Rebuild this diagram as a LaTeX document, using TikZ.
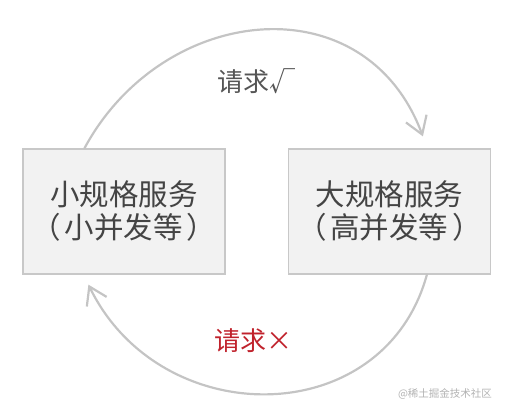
\documentclass[tikz,border=0pt]{standalone}
\usepackage{fontspec}
\setmainfont{Noto Sans CJK SC}
\usepackage{tikz}
\usetikzlibrary{arrows.meta}
\definecolor{boxfill}{HTML}{F2F2F2}
\definecolor{boxline}{HTML}{C8C8C8}
\definecolor{arcgray}{HTML}{C4C4C4}
\definecolor{txtgray}{HTML}{444444}
\definecolor{okgray}{HTML}{555555}
\definecolor{failred}{HTML}{C0222C}

\begin{document}
\begin{tikzpicture}[x=1pt,y=-1pt,
  svc/.style = {draw=boxline, line width=1.2pt, fill=boxfill, minimum width=202pt, minimum height=125pt, inner sep=0pt, align=center, text=txtgray, font=\fontsize{29.5}{33}\selectfont},
  req/.style = {draw=arcgray, line width=2.2pt, line cap=round, -{Straight Barb[length=17pt,width=22pt,line width=2.2pt]}},
  lbl/.style = {inner sep=0pt, font=\fontsize{26}{30}\selectfont}]
\useasboundingbox (0,0) rectangle (506,410);
\node (small) [svc] at (124,211.5) {小规格服务\\（\hspace{4pt}小并发等\hspace{4pt}）};
\node (large) [svc] at (389.5,211.5) {大规格服务\\（\hspace{4pt}高并发等\hspace{4pt}）};
\coordinate (ok-tip) at ([xshift=135pt,yshift=12pt]large.north west);
\coordinate (fail-tip) at ([xshift=66pt,yshift=-10pt]small.south west);
\draw[req] ([xshift=62pt]small.north west) .. controls +(78,-145) and +(-58,-155) .. (ok-tip);
\draw[req] ([xshift=139pt]large.south west) .. controls +(-43,157) and +(72,148) .. (fail-tip);
\node (ok) [lbl, text=okgray] at (256,81) {请求√};
\node (fail) [lbl, text=failred] at (253,341) {请求×};
\node (mark) [inner sep=0pt, text=black!30, font=\fontsize{10.5}{12}\selectfont] at (445,394) {@稀土掘金技术社区};
\end{tikzpicture}
\end{document}
